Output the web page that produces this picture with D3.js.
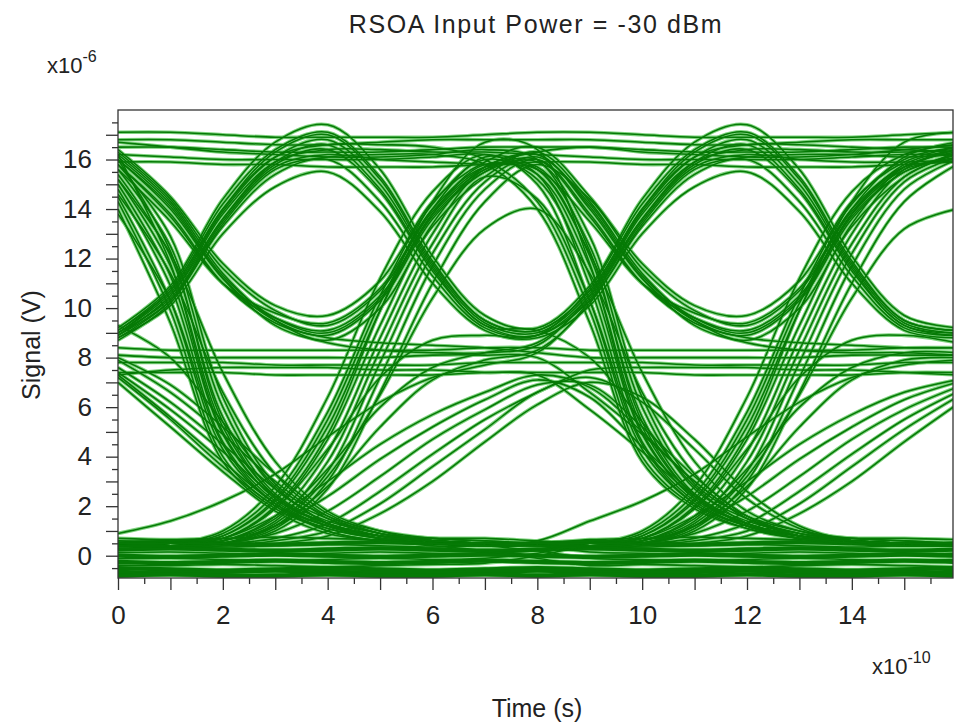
<!DOCTYPE html>
<html><head><meta charset="utf-8">
<script src="https://cdn.jsdelivr.net/npm/d3@7"></script>
<style>
html,body{margin:0;padding:0;background:#fff;}
svg{display:block;}
text{font-family:"Liberation Sans",Arial,sans-serif;fill:#222;}
</style></head>
<body>
<svg id="chart" width="955" height="727"></svg>
<script>
// ---- data: time in units of 1e-10 s, signal in units of 1e-6 V ----
const sampleTimes = [0,1,2,3,4,5,6,7,8,9,10,11,12,13,14,15,16];
const xTickLabels = [0,2,4,6,8,10,12,14];
const yTickLabels = [0,2,4,6,8,10,12,14,16];

// traces that sit at the low ("0") level at t = 8e-10 s
const tracesLowAtMid = [
 [0.5,0.55,0.5,0.45,0.5,0.55,0.5,0.45,0.5,0.55,0.5,0.45,0.5,0.55,0.5,0.45,0.5],
 [0.25,0.3,0.25,0.2,0.25,0.3,0.25,0.2,0.25,0.3,0.25,0.2,0.25,0.3,0.25,0.2,0.25],
 [0.0,-0.05,0.0,0.05,0.0,-0.05,0.0,0.05,0.0,-0.05,0.0,0.05,0.0,-0.05,0.0,0.05,0.0],
 [-0.25,-0.3,-0.25,-0.2,-0.25,-0.3,-0.25,-0.2,-0.25,-0.3,-0.25,-0.2,-0.25,-0.3,-0.25,-0.2,-0.25],
 [-0.5,-0.55,-0.6,-0.55,-0.5,-0.55,-0.6,-0.55,-0.5,-0.55,-0.6,-0.55,-0.5,-0.55,-0.6,-0.55,-0.5],
 [-0.65,-0.7,-0.65,-0.6,-0.65,-0.7,-0.7,-0.65,-0.6,-0.65,-0.7,-0.65,-0.6,-0.65,-0.7,-0.7,-0.65],
 [-0.8,-0.75,-0.8,-0.8,-0.75,-0.8,-0.8,-0.75,-0.8,-0.75,-0.8,-0.8,-0.75,-0.8,-0.8,-0.75,-0.8],
 [0.7,0.65,0.7,0.75,0.7,0.65,0.7,0.7,0.6,0.5,1.0,2.8,6.4,11.2,14.7,16.2,16.6],
 [0.38,0.4,0.35,0.4,0.45,0.4,0.35,0.4,0.45,0.5,0.7,1.9,4.7,9.3,13.4,15.7,16.3],
 [0.12,0.15,0.1,0.05,0.1,0.15,0.1,0.1,0.2,0.4,0.5,1.3,3.4,7.8,12.2,15.1,16.1],
 [-0.12,-0.1,-0.15,-0.2,-0.15,-0.1,-0.15,-0.1,0.1,0.5,0.6,1.2,2.4,3.9,5.2,6.3,7.0],
 [-0.38,-0.4,-0.35,-0.4,-0.45,-0.4,-0.35,-0.3,0.0,0.4,0.4,0.6,1.0,2.1,3.6,5.1,6.4],
 [14.0,9.4,3.8,1.9,1.1,0.7,0.5,0.5,0.4,0.5,0.9,2.5,5.8,10.5,14.2,16.0,16.5],
 [14.5,10.3,4.3,2.1,1.2,0.8,0.6,0.5,0.5,0.5,0.8,2.2,5.2,9.9,13.8,15.8,16.4],
 [15.0,11.3,4.9,2.3,1.3,0.8,0.6,0.5,0.5,0.4,0.6,1.6,4.2,8.8,13.0,15.6,16.4],
 [15.4,12.1,5.6,2.5,1.4,0.9,0.6,0.5,0.5,0.4,0.6,1.4,3.8,8.3,12.6,15.3,16.2],
 [15.8,12.9,6.4,2.9,1.6,1.0,0.7,0.6,0.5,0.4,0.5,1.1,3.0,7.2,11.7,14.8,16.0],
 [16.2,11.8,5.0,2.3,1.3,0.8,0.6,0.5,0.5,0.6,0.7,2.0,4.9,9.9,14.3,16.7,17.1],
 [14.3,9.9,4.0,2.0,1.1,0.7,0.6,0.5,0.5,0.65,0.7,0.75,0.7,0.65,0.7,0.7,0.65],
 [15.2,11.7,5.2,2.4,1.3,0.8,0.6,0.5,0.5,0.4,0.35,0.4,0.45,0.4,0.35,0.4,0.4],
 [13.8,10.3,4.5,2.1,1.2,0.8,0.6,0.5,0.4,0.15,0.1,0.05,0.1,0.15,0.1,0.05,0.1],
 [14.8,10.9,4.6,2.2,1.2,0.8,0.6,0.5,0.5,0.6,0.7,1.6,3.0,4.5,5.7,6.6,7.1],
 [15.6,12.5,6.0,2.7,1.5,0.9,0.7,0.6,0.5,0.4,0.5,0.9,1.8,3.2,4.7,5.9,6.8],
 [14.6,11.4,6.6,3.3,1.6,0.9,0.6,0.5,0.5,0.5,0.6,1.5,3.5,6.0,7.6,8.2,8.2],
 [15.2,12.2,7.4,3.8,1.8,1.0,0.6,0.5,0.5,0.5,0.7,1.9,4.3,7.2,8.7,8.9,8.6],
 [16.0,12.3,5.4,2.4,1.3,0.8,0.6,0.5,0.6,1.4,2.2,3.3,4.8,6.2,7.2,7.7,7.9],
 [7.9,6.6,4.9,3.0,1.5,0.8,0.6,0.5,0.5,0.5,0.5,1.0,2.7,6.6,11.0,14.3,15.8],
 [7.3,5.6,3.8,2.1,1.0,0.6,0.5,0.4,0.4,0.5,0.5,1.2,3.2,6.5,10.4,13.2,14.0],
 [8.0,6.9,5.2,3.3,1.7,0.9,0.6,0.5,0.4,0.4,0.8,2.3,5.5,10.2,14.0,16.1,16.7],
 [7.4,5.9,4.2,2.4,1.2,0.7,0.5,0.4,0.2,-0.1,-0.15,-0.2,-0.15,-0.1,-0.15,-0.2,-0.15],
 [7.0,5.2,3.4,1.8,0.9,0.6,0.4,0.2,-0.1,-0.4,-0.35,-0.4,-0.45,-0.4,-0.35,-0.4,-0.45],
 [7.6,6.2,4.5,2.7,1.3,0.7,0.5,0.5,0.5,0.5,0.5,0.7,1.3,2.6,4.1,5.5,6.6],
 [9.3,8.0,5.4,2.8,1.3,0.7,0.5,0.5,0.4,0.3,0.4,0.5,0.8,1.7,3.0,4.6,6.1],
 [7.2,5.5,3.6,2.0,1.0,0.6,0.5,0.4,0.4,0.4,0.5,1.2,2.8,5.2,7.1,7.9,8.0]
];
// traces that sit at the high ("16") level at t = 8e-10 s
const tracesHighAtMid = [
 [17.1,17.1,17.0,16.9,16.9,16.9,16.9,17.0,17.1,17.1,17.0,16.9,16.9,16.9,16.9,17.0,17.1],
 [16.8,16.8,16.7,16.6,16.6,16.7,16.8,16.8,16.8,16.8,16.7,16.6,16.6,16.7,16.8,16.8,16.8],
 [16.5,16.5,16.4,16.3,16.3,16.3,16.4,16.5,16.5,16.5,16.4,16.3,16.3,16.3,16.4,16.5,16.5],
 [15.9,15.9,15.8,15.8,15.7,15.7,15.7,15.8,15.9,15.9,15.8,15.8,15.7,15.7,15.7,15.8,15.9],
 [16.2,16.1,16.0,16.0,16.0,16.0,16.1,16.2,15.4,10.9,4.6,2.2,1.2,0.8,0.6,0.5,0.5],
 [16.7,16.5,16.3,16.2,16.1,16.1,16.2,16.4,16.0,12.3,5.4,2.4,1.3,0.8,0.6,0.5,0.5],
 [16.2,14.3,11.4,9.5,8.7,10.0,13.3,15.3,16.3,14.3,11.4,9.5,8.7,10.0,13.3,15.3,16.3],
 [16.0,14.0,11.2,9.5,8.9,10.3,13.6,15.5,16.2,14.0,11.2,9.5,8.9,10.3,13.6,15.5,16.2],
 [15.8,13.7,11.0,9.6,9.1,10.5,13.8,15.6,16.0,13.7,11.0,9.6,9.1,10.5,13.8,15.6,16.0],
 [16.4,14.5,11.8,10.1,9.7,11.1,14.3,15.9,16.5,14.5,11.8,10.1,9.7,11.1,14.3,15.9,16.5],
 [15.6,13.5,11.0,9.8,9.4,10.8,14.0,15.7,15.6,12.1,5.6,2.5,1.4,0.9,0.6,0.5,0.5],
 [16.1,14.2,11.3,9.6,9.0,10.4,13.7,15.5,15.9,12.9,6.4,2.9,1.6,1.0,0.7,0.6,0.5],
 [16.3,14.4,11.6,9.9,9.3,10.7,13.9,15.7,16.2,14.1,11.2,9.3,8.6,8.3,8.2,8.2,8.1],
 [8.9,10.5,13.8,15.9,16.4,16.4,16.3,16.3,16.2,16.1,16.0,16.0,16.0,16.0,16.1,16.2,16.2],
 [8.7,10.2,13.4,15.6,16.1,16.2,16.2,15.8,14.0,9.4,3.8,1.9,1.1,0.7,0.5,0.5,0.4],
 [9.0,10.7,14.0,16.1,16.6,16.6,16.5,16.0,14.3,9.9,4.0,2.0,1.1,0.7,0.6,0.5,0.5],
 [8.8,10.3,13.5,15.7,16.2,16.0,15.9,15.8,15.6,13.5,11.0,9.8,9.4,10.8,14.0,15.7,15.9],
 [0.4,0.5,1.0,2.8,6.4,11.2,14.7,16.2,15.0,10.3,4.3,2.1,1.2,0.8,0.6,0.5,0.5],
 [0.4,0.5,0.9,2.5,5.8,10.5,14.2,16.0,15.2,11.3,4.9,2.3,1.3,0.8,0.6,0.5,0.5],
 [0.4,0.5,0.8,2.2,5.2,9.9,13.8,15.8,15.4,11.7,5.2,2.4,1.3,0.8,0.6,0.5,0.5],
 [0.4,0.4,0.6,1.6,4.2,8.8,13.0,15.6,15.7,12.5,6.0,2.7,1.5,0.9,0.7,0.6,0.5],
 [0.5,0.4,0.6,1.4,3.8,8.3,12.6,15.3,14.4,10.3,4.5,2.1,1.2,0.8,0.6,0.5,0.5],
 [0.4,0.5,0.5,1.2,3.2,6.5,10.4,13.2,14.0,11.4,6.6,3.3,1.6,0.9,0.6,0.5,0.5],
 [0.5,0.6,0.7,2.0,4.9,9.9,14.3,16.7,16.4,11.8,5.0,2.3,1.3,0.8,0.6,0.5,0.5],
 [0.3,0.4,0.8,2.3,5.5,10.2,14.0,16.1,15.6,12.2,7.4,3.8,1.8,1.0,0.6,0.5,0.5],
 [0.5,0.5,0.7,1.9,4.7,9.3,13.4,15.7,16.3,16.5,16.3,16.2,16.1,16.1,16.2,16.4,16.6],
 [0.4,0.4,0.5,1.3,3.4,7.8,12.2,15.1,16.1,14.2,11.3,9.6,9.0,10.4,13.7,15.5,16.1],
 [0.4,0.5,0.5,1.0,2.7,6.6,11.0,14.3,15.8,14.4,11.6,9.9,9.3,10.7,13.9,15.7,16.4],
 [0.5,0.4,0.5,1.1,3.0,7.2,11.7,14.8,16.0,13.8,11.0,9.4,8.8,8.6,8.5,8.4,8.4]
];
// traces that sit at the middle ("8") level at t = 8e-10 s
const tracesMidAtMid = [
 [8.4,8.3,8.3,8.3,8.3,8.3,8.3,8.4,8.4,8.3,8.3,8.3,8.3,8.3,8.3,8.4,8.4],
 [7.8,7.8,7.8,7.7,7.7,7.7,7.7,7.8,7.8,7.8,7.8,7.7,7.7,7.7,7.7,7.8,7.8],
 [7.4,7.4,7.4,7.3,7.3,7.3,7.3,7.4,7.4,7.4,7.4,7.3,7.3,7.3,7.3,7.4,7.4],
 [8.1,8.0,8.0,8.0,8.0,8.0,8.1,8.1,8.0,6.6,4.9,3.0,1.5,0.8,0.6,0.5,0.5],
 [7.3,7.5,7.6,7.6,7.6,7.5,7.5,7.4,7.3,5.9,4.2,2.4,1.2,0.7,0.5,0.4,0.4],
 [8.8,10.1,13.0,14.9,15.5,13.9,11.0,9.1,8.8,10.1,13.0,14.9,15.5,13.9,11.0,9.1,8.8],
 [8.9,10.3,13.3,15.4,16.0,14.3,11.3,9.2,8.9,10.3,13.3,15.4,16.0,14.3,11.3,9.2,8.9],
 [9.0,10.6,13.9,16.1,16.8,15.0,11.7,9.4,9.0,10.6,13.9,16.1,16.8,15.0,11.7,9.4,9.0],
 [9.2,10.9,14.4,16.7,17.4,15.6,12.1,9.7,9.2,10.9,14.4,16.7,17.4,15.6,12.1,9.7,9.2],
 [9.1,10.7,14.0,16.3,17.0,15.2,11.8,9.5,9.1,10.7,14.0,16.3,17.0,15.2,11.8,9.5,9.1],
 [8.9,10.5,13.6,15.8,16.4,14.7,11.5,9.3,8.9,10.5,13.8,15.9,16.4,16.4,16.3,16.3,16.4],
 [9.1,10.8,14.2,16.4,17.1,15.3,11.9,9.5,9.1,10.7,14.0,16.1,16.6,16.6,16.5,16.4,16.3],
 [9.0,10.4,13.6,15.9,16.6,14.8,11.6,9.3,9.1,8.0,5.4,2.8,1.3,0.7,0.5,0.5,0.5],
 [15.8,13.8,11.0,9.4,8.8,8.6,8.5,8.4,8.2,8.0,8.0,8.0,8.0,8.0,8.1,8.1,8.1],
 [16.0,14.1,11.2,9.3,8.6,8.3,8.2,8.2,8.5,10.5,13.6,15.8,16.4,14.7,11.5,9.3,8.9],
 [0.6,0.6,0.7,1.6,3.0,4.5,5.7,6.6,7.3,6.8,5.0,3.0,1.5,0.8,0.5,0.5,0.5],
 [0.5,0.5,0.6,1.2,2.4,3.9,5.2,6.3,7.1,6.4,4.4,2.5,1.2,0.7,0.5,0.4,0.4],
 [0.4,0.4,0.5,0.9,1.8,3.2,4.7,5.9,6.9,6.9,5.2,3.2,1.6,0.8,0.5,0.4,0.4],
 [0.4,0.4,0.4,0.6,1.0,2.1,3.6,5.1,6.6,7.2,6.2,4.3,2.3,1.1,0.6,0.5,0.5],
 [0.3,0.3,0.4,0.5,0.8,1.7,3.0,4.6,6.1,7.0,6.4,4.7,2.6,1.2,0.6,0.4,0.4],
 [0.5,0.5,0.6,1.5,3.5,6.0,7.6,8.2,8.6,10.4,13.6,15.9,16.6,14.8,11.6,9.3,9.0],
 [0.5,0.5,0.7,1.9,4.3,7.2,8.7,8.9,8.9,10.8,14.2,16.4,17.1,15.3,11.9,9.5,9.1],
 [0.4,0.4,0.5,1.2,2.8,5.2,7.1,7.9,8.3,10.2,13.4,15.6,16.1,16.2,16.2,16.1,16.2],
 [0.9,1.4,2.2,3.3,4.8,6.2,7.2,7.7,8.2,10.3,13.5,15.7,16.2,16.0,15.9,15.9,16.0],
 [0.5,0.5,0.5,0.7,1.3,2.6,4.1,5.5,6.6,7.5,7.6,7.6,7.6,7.5,7.5,7.4,7.3]
];

// ---- layout ----
const svg = d3.select("#chart");
const plot = {left:118, right:953, top:110, bottom:578};
const x = d3.scaleLinear().domain([0, 15.93]).range([plot.left, plot.right]);
const y = d3.scaleLinear().domain([-0.9, 18]).range([plot.bottom, plot.top]);

svg.append("defs").append("clipPath").attr("id","clip").append("rect")
  .attr("x",plot.left).attr("y",plot.top)
  .attr("width",plot.right-plot.left).attr("height",plot.bottom-plot.top);

const allTraces = [].concat(tracesLowAtMid, tracesHighAtMid, tracesMidAtMid)
  .map(vals => ({pts: vals.map((v,k)=>[sampleTimes[k], v]), flat: d3.max(vals) < 1}));

const line = d3.line().x(d=>x(d[0])).y(d=>y(d[1])).curve(d3.curveCatmullRom.alpha(0.5));

const g = svg.append("g").attr("clip-path","url(#clip)");
g.selectAll("path.halo").data(allTraces).join("path").attr("class","halo")
  .attr("d", d=>line(d.pts)).attr("fill","none")
  .attr("stroke","#7fd37f").attr("stroke-width", d=>d.flat?5.6:3.6);
g.selectAll("path.tr").data(allTraces).join("path").attr("class","tr")
  .attr("d", d=>line(d.pts)).attr("fill","none")
  .attr("stroke","#067a06").attr("stroke-width", d=>d.flat?4.3:1.55);

// frame
svg.append("rect").attr("x",plot.left).attr("y",plot.top)
  .attr("width",plot.right-plot.left).attr("height",plot.bottom-plot.top)
  .attr("fill","none").attr("stroke","#333").attr("stroke-width",1.3);

// axes
const intY = d3.range(0,18,1), halfY = d3.range(-0.5,18,1);
const intX = d3.range(0,16,1), halfX = d3.range(0.5,16,1);
function styleAxis(sel){ sel.select(".domain").remove(); sel.selectAll("line").attr("stroke","#333").attr("stroke-width",1.3); sel.selectAll("text").style("font-size","26px").attr("fill","#222"); }
svg.append("g").attr("transform",`translate(${plot.left},0)`)
  .call(d3.axisLeft(y).tickValues(halfY).tickSize(6).tickFormat("")).call(styleAxis);
svg.append("g").attr("transform",`translate(${plot.left},0)`)
  .call(d3.axisLeft(y).tickValues(intY).tickSize(12).tickPadding(14)
    .tickFormat(d => yTickLabels.includes(d) ? d : "")).call(styleAxis);
svg.append("g").attr("transform",`translate(0,${plot.bottom})`)
  .call(d3.axisBottom(x).tickValues(halfX).tickSize(6).tickFormat("")).call(styleAxis);
svg.append("g").attr("transform",`translate(0,${plot.bottom})`)
  .call(d3.axisBottom(x).tickValues(intX).tickSize(12).tickPadding(16)
    .tickFormat(d => xTickLabels.includes(d) ? d : "")).call(styleAxis);

// texts
svg.append("text").attr("x",536).attr("y",33).attr("text-anchor","middle")
  .style("font-size","25px").attr("letter-spacing","1.6px").text("RSOA Input Power = -30 dBm");
const e6 = svg.append("text").attr("x",47).attr("y",73).style("font-size","22px");
e6.append("tspan").text("x10");
e6.append("tspan").attr("dy",-11).style("font-size","16px").text("-6");
const e10 = svg.append("text").attr("x",872).attr("y",674).style("font-size","22px");
e10.append("tspan").text("x10");
e10.append("tspan").attr("dy",-11).style("font-size","16px").text("-10");
svg.append("text").attr("x",537).attr("y",717).attr("text-anchor","middle")
  .style("font-size","25px").text("Time (s)");
svg.append("text").attr("transform","translate(40,345) rotate(-90)").attr("text-anchor","middle")
  .style("font-size","25px").text("Signal (V)");
</script>
</body></html>
